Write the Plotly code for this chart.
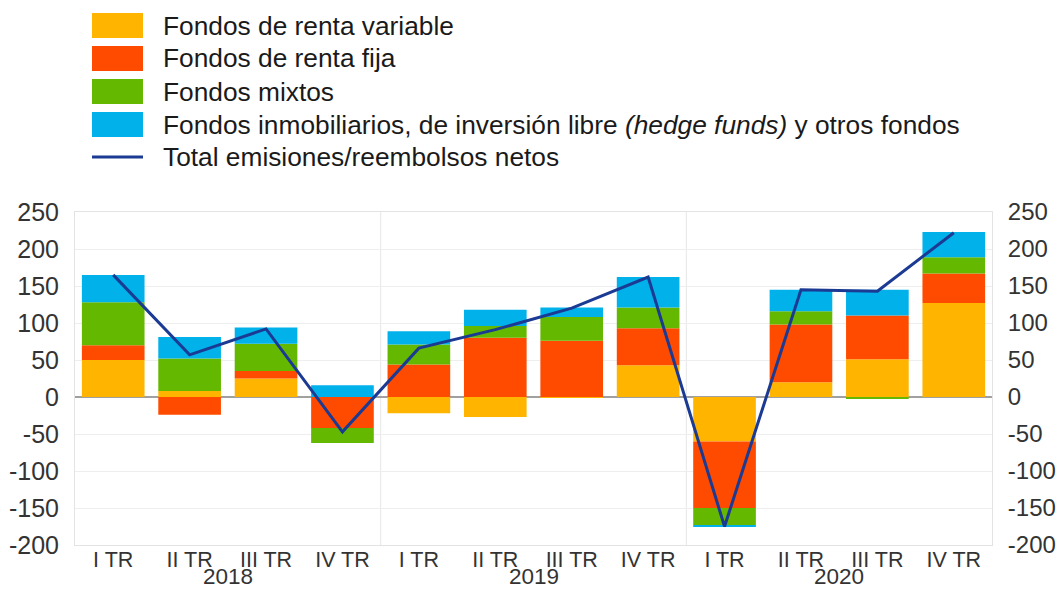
import plotly.graph_objects as go

# ---------------- data ----------------
quarters = ["I TR", "II TR", "III TR", "IV TR",
            "I TR", "II TR", "III TR", "IV TR",
            "I TR", "II TR", "III TR", "IV TR"]
years = ["2018", "2019", "2020"]

renta_variable = [50, 8, 25, 0, -22, -27, -1, 43, -60, 20, 51, 127]
renta_fija = [20, -24, 10, -42, 44, 80, 76, 50, -90, 78, 59, 40]
mixtos = [58, 44, 37, -20, 27, 16, 32, 28, -23, 18, -2, 22]
otros = [37, 29, 22, 16, 18, 22, 13, 41, -2, 29, 35, 34]
total = [165, 57, 92, -47, 66, 91, 120, 162, -175, 145, 143, 222]

y_ticks = [-200, -150, -100, -50, 0, 50, 100, 150, 200, 250]
y_tick_labels = [str(v) for v in y_ticks]

series_names = [
    "Fondos de renta variable",
    "Fondos de renta fija",
    "Fondos mixtos",
    "Fondos inmobiliarios, de inversión libre <i>(hedge funds)</i> y otros fondos",
]
line_name = "Total emisiones/reembolsos netos"
colors = ["#FFB400", "#FF4B00", "#65B800", "#00B1EA"]
line_color = "#1B3A93"

# ---------------- layout geometry ----------------
W, H = 1058, 589
ML, MR, MT, MB = 75, 66, 212, 44
PW, PH = W - ML - MR, H - MT - MB


def px_x(px):
    return (px - ML) / PW


def px_y(py):
    return (H - MB - py) / PH


FONT = "Liberation Sans, Arial, sans-serif"
x = list(range(len(quarters)))

fig = go.Figure()
for vals, name, c in zip([renta_variable, renta_fija, mixtos, otros], series_names, colors):
    fig.add_trace(go.Bar(x=x, y=vals, name=name, marker=dict(color=c, line=dict(width=0)),
                         showlegend=False))

fig.add_trace(go.Scatter(x=x, y=total, name=line_name, mode="lines",
                         line=dict(color=line_color, width=3), yaxis="y2",
                         showlegend=False))

# year separators
n_per_year = 4
shapes = []
for k in range(1, len(years)):
    xs = k * n_per_year - 0.5
    shapes.append(dict(type="line", xref="x", yref="paper", x0=xs, x1=xs, y0=0, y1=1,
                       line=dict(color="#E6E6E6", width=1), layer="below"))

# custom legend (large swatches)
row_tops = [13, 46, 79, 112]
sw_h = 25
LEG_FONT = dict(family=FONT, size=26.3, color="#1a1a1a")
annotations = []
for top, name, c in zip(row_tops, series_names, colors):
    shapes.append(dict(type="rect", xref="paper", yref="paper",
                       x0=px_x(92), x1=px_x(143), y0=px_y(top + sw_h), y1=px_y(top),
                       fillcolor=c, line=dict(width=0)))
    annotations.append(dict(xref="paper", yref="paper", x=px_x(161), y=px_y(top + sw_h / 2),
                            xanchor="left", yanchor="middle", text=name, showarrow=False,
                            font=LEG_FONT))
line_y = 157
shapes.append(dict(type="line", xref="paper", yref="paper",
                   x0=px_x(92), x1=px_x(143), y0=px_y(line_y), y1=px_y(line_y),
                   line=dict(color=line_color, width=3)))
annotations.append(dict(xref="paper", yref="paper", x=px_x(161), y=px_y(line_y),
                        xanchor="left", yanchor="middle", text=line_name, showarrow=False,
                        font=LEG_FONT))

# year labels
for k, yr in enumerate(years):
    xc = sum(x[k * n_per_year:(k + 1) * n_per_year]) / n_per_year
    annotations.append(dict(xref="x", yref="paper", x=xc, y=0, yshift=-(MB + 2),
                            xanchor="center", yanchor="bottom", text=yr, showarrow=False,
                            font=dict(family=FONT, size=22.5, color="#333333")))

yax = dict(range=[-200, 250], tickmode="array", tickvals=y_ticks, ticktext=y_tick_labels,
           showgrid=True, gridcolor="#EEEEEE",
           gridwidth=1, zeroline=True, zerolinecolor="#A0A0A0", zerolinewidth=1.5,
           ticks="", showline=True, linecolor="#E3E3E3", linewidth=1, fixedrange=True)

fig.update_layout(
    width=W, height=H,
    margin=dict(l=ML, r=MR, t=MT, b=MB, autoexpand=False),
    paper_bgcolor="white", plot_bgcolor="white",
    barmode="relative", bargap=0.18,
    showlegend=False,
    xaxis=dict(tickmode="array", tickvals=x, ticktext=quarters, range=[-0.5, len(x) - 0.5],
               showgrid=False, zeroline=False, ticks="", ticklabelstandoff=-5,
               showline=True, linecolor="#E3E3E3", mirror=True, fixedrange=True,
               tickfont=dict(family=FONT, size=21.5, color="#333333")),
    yaxis=dict(**yax, side="left", ticklabelstandoff=10,
               tickfont=dict(family=FONT, size=25, color="#333333")),
    yaxis2=dict(**yax, side="right", overlaying="y", matches="y", ticklabelstandoff=10,
                tickfont=dict(family=FONT, size=24, color="#333333")),
    shapes=shapes,
    annotations=annotations,
    font=dict(family=FONT),
)

fig.write_html("out.html", config={"displayModeBar": False},
               post_script="document.body.style.margin='0';document.body.style.overflow='hidden';")
